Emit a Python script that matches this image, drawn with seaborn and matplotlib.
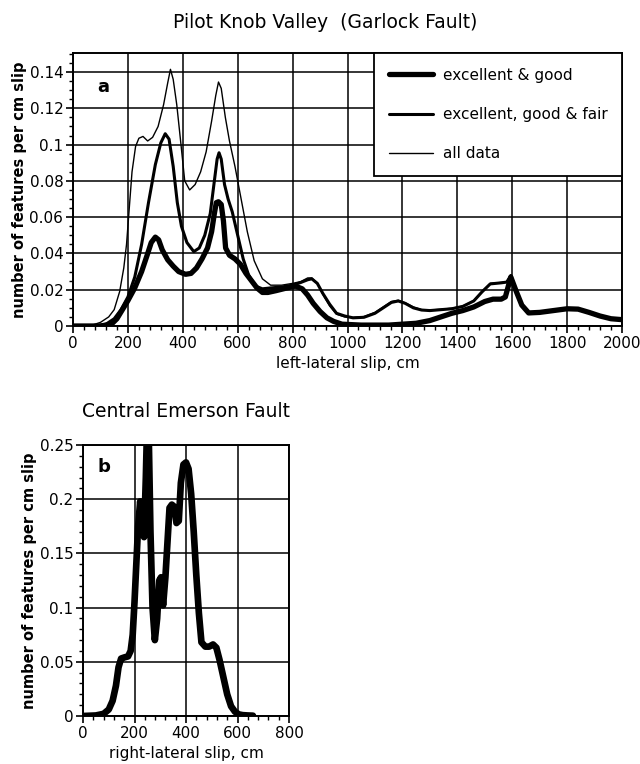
import numpy as np
import pandas as pd
import matplotlib
matplotlib.use("Agg")
import matplotlib.pyplot as plt
from matplotlib.ticker import MultipleLocator, FuncFormatter
import seaborn as sns

# ---- Pilot Knob Valley (Garlock Fault): slip distributions ----
all_x = [0, 60, 100, 130, 150, 170, 185, 195, 205, 215, 228, 240, 255, 272, 290, 310,
         330, 345, 355, 365, 378, 392, 407, 425, 445, 465, 485, 505, 520, 530, 540, 555,
         570, 590, 610, 635, 660, 690, 720, 760, 800, 830, 855, 870, 890, 910, 935, 960,
         990, 1020, 1060, 1100, 1130, 1160, 1185, 1210, 1240, 1270, 1300, 1340, 1380,
         1420, 1460, 1490, 1520, 1560, 1580, 1595, 1615, 1635, 1660, 1700, 1750, 1800,
         1840, 1880, 1920, 1960, 2000]
all_y = [0, 0, 0.002, 0.005, 0.009, 0.019, 0.032, 0.045, 0.065, 0.085, 0.099, 0.1035,
         0.1045, 0.102, 0.104, 0.110, 0.122, 0.134, 0.1415, 0.136, 0.122, 0.102, 0.080,
         0.075, 0.078, 0.085, 0.096, 0.113, 0.127, 0.1345, 0.131, 0.115, 0.102, 0.088,
         0.072, 0.052, 0.036, 0.026, 0.0225, 0.0225, 0.0235, 0.0245, 0.0265, 0.0265,
         0.0235, 0.0175, 0.011, 0.0065, 0.005, 0.0047, 0.0052, 0.0075, 0.0105, 0.0135,
         0.0142, 0.0128, 0.0105, 0.009, 0.0088, 0.0092, 0.0098, 0.011, 0.014, 0.019,
         0.0235, 0.024, 0.0245, 0.028, 0.019, 0.0115, 0.0072, 0.0075, 0.0085, 0.0095,
         0.0093, 0.0075, 0.0055, 0.004, 0.0035]

egf_x = [0, 80, 120, 150, 175, 200, 225, 250, 275, 300, 320, 336, 350, 365, 380, 395,
         415, 440, 460, 480, 500, 515, 525, 532, 540, 552, 565, 580, 600, 620, 640, 665,
         690, 720, 760, 800, 830, 855, 870, 890, 910, 935, 960, 990, 1020, 1060, 1100,
         1130, 1160, 1185, 1210, 1240, 1270, 1300, 1340, 1380, 1420, 1460, 1490, 1520,
         1560, 1580, 1595, 1615, 1635, 1660, 1700, 1750, 1800, 1840, 1880, 1920, 1960, 2000]
egf_y = [0, 0, 0.001, 0.004, 0.009, 0.016, 0.027, 0.045, 0.068, 0.089, 0.101, 0.106,
         0.103, 0.088, 0.068, 0.055, 0.046, 0.041, 0.043, 0.050, 0.062, 0.080, 0.092,
         0.0955, 0.092, 0.078, 0.070, 0.063, 0.050, 0.037, 0.028, 0.022, 0.0205, 0.021,
         0.0215, 0.0225, 0.024, 0.0255, 0.026, 0.0235, 0.018, 0.012, 0.007, 0.0055,
         0.0045, 0.0048, 0.007, 0.010, 0.013, 0.0138, 0.0125, 0.010, 0.0088, 0.0085,
         0.009, 0.0095, 0.0108, 0.0138, 0.0188, 0.0232, 0.0238, 0.0242, 0.0278, 0.019,
         0.0115, 0.0072, 0.0075, 0.0085, 0.0095, 0.0093, 0.0075, 0.0055, 0.004, 0.0035]

eg_x = [0, 100, 140, 160, 180, 200, 225, 250, 270, 285, 300, 312, 325, 345, 365, 385,
        410, 430, 450, 470, 490, 505, 515, 522, 530, 540, 548, 556, 570, 590, 610, 630,
        650, 670, 690, 710, 740, 780, 810, 835, 855, 875, 900, 925, 950, 980, 1050, 1150,
        1250, 1300, 1340, 1380, 1420, 1460, 1500, 1530, 1560, 1575, 1595, 1615, 1635,
        1660, 1700, 1750, 1800, 1840, 1880, 1920, 1960, 2000]
eg_y = [0, 0, 0.001, 0.004, 0.009, 0.014, 0.021, 0.030, 0.039, 0.046, 0.049, 0.0475,
        0.042, 0.0365, 0.033, 0.030, 0.0285, 0.029, 0.032, 0.037, 0.043, 0.052, 0.062,
        0.068, 0.0685, 0.067, 0.058, 0.043, 0.039, 0.037, 0.034, 0.029, 0.025, 0.021,
        0.0185, 0.0185, 0.0195, 0.021, 0.022, 0.0205, 0.017, 0.0125, 0.008, 0.0045,
        0.0025, 0.001, 0.0005, 0.0005, 0.0015, 0.003, 0.005, 0.007, 0.0085, 0.0105,
        0.0135, 0.0148, 0.0148, 0.016, 0.027, 0.019, 0.0115, 0.0072, 0.0075, 0.0085,
        0.0095, 0.0093, 0.0075, 0.0055, 0.004, 0.0035]

# ---- Central Emerson Fault ----
em_x = [0, 50, 80, 100, 115, 128, 138, 148, 160, 175, 185, 193, 200, 207, 214, 222,
        230, 237, 244, 250, 256, 262, 270, 279, 288, 296, 303, 311, 320, 328, 336, 345,
        355, 363, 372, 380, 390, 400, 410, 420, 430, 440, 450, 460, 475, 490, 505, 518,
        530, 545, 560, 575, 590, 605, 620, 640, 660]
em_y = [0.0, 0.0005, 0.002, 0.006, 0.014, 0.028, 0.045, 0.053, 0.054, 0.055, 0.060,
        0.075, 0.105, 0.14, 0.175, 0.198, 0.175, 0.165, 0.22, 0.28, 0.25, 0.17, 0.10,
        0.070, 0.09, 0.125, 0.128, 0.102, 0.128, 0.16, 0.192, 0.195, 0.193, 0.178, 0.18,
        0.215, 0.232, 0.234, 0.228, 0.205, 0.17, 0.13, 0.095, 0.068, 0.064, 0.064, 0.066,
        0.063, 0.052, 0.036, 0.02, 0.009, 0.004, 0.0015, 0.0008, 0.0005, 0.0003]

top_xticks = list(range(0, 2001, 200))
top_yticks = [0, 0.02, 0.04, 0.06, 0.08, 0.1, 0.12, 0.14]
bot_xticks = [0, 200, 400, 600, 800]
bot_yticks = [0, 0.05, 0.1, 0.15, 0.2, 0.25]

sns.set_style("ticks")
plt.rcParams["font.family"] = ["DejaVu Sans"]
plt.rcParams["axes.linewidth"] = 1.3
for key in ("text.color", "axes.labelcolor", "xtick.color", "ytick.color",
            "xtick.labelcolor", "ytick.labelcolor", "axes.edgecolor"):
    plt.rcParams[key] = "black"

fig = plt.figure(figsize=(6.4, 7.64), dpi=100)

def fmt(v, _pos):
    return f"{round(v, 4):g}"

def style_axes(ax, xticks, yticks, xminor, yminor):
    ax.set_xticks(xticks)
    ax.set_yticks(yticks)
    ax.xaxis.set_minor_locator(MultipleLocator(xminor))
    ax.yaxis.set_minor_locator(MultipleLocator(yminor))
    ax.yaxis.set_major_formatter(FuncFormatter(fmt))
    ax.grid(True, which="major", color="black", linewidth=1.1)
    ax.set_axisbelow(True)
    ax.tick_params(which="major", direction="out", length=5, width=1.2,
                   labelsize=11, pad=2, colors="black")
    ax.tick_params(which="minor", direction="out", length=3, width=1.0, colors="black")
    for sp in ax.spines.values():
        sp.set_color("black")
        sp.set_linewidth(1.4)

# ---- panel a ----
ax1 = fig.add_axes([73 / 640, 1 - 326 / 764, (622 - 73) / 640, (326 - 53) / 764])
sns.lineplot(x=eg_x, y=eg_y, ax=ax1, color="black", linewidth=3.8,
             sort=False, estimator=None, label="excellent & good")
sns.lineplot(x=egf_x, y=egf_y, ax=ax1, color="black", linewidth=2.2,
             sort=False, estimator=None, label="excellent, good & fair")
sns.lineplot(x=all_x, y=all_y, ax=ax1, color="black", linewidth=1.0,
             sort=False, estimator=None, label="all data")
ax1.set_xlim(0, 2000)
ax1.set_ylim(0, 0.1505)
style_axes(ax1, top_xticks, top_yticks, 40, 0.005)
ax1.set_xlabel("left-lateral slip, cm", fontsize=11, labelpad=4)
ax1.set_ylabel("number of features per cm slip", fontsize=10.5,
               fontweight="bold", labelpad=2)
ax1.text(0.044, 0.875, "a", transform=ax1.transAxes, fontsize=13,
         fontweight="bold", ha="left", va="center")
leg = ax1.legend(loc="upper right", bbox_to_anchor=(1, 1), borderaxespad=0,
                 fontsize=11, frameon=True, fancybox=False, framealpha=1,
                 edgecolor="black", handlelength=2.9, handletextpad=0.65,
                 labelspacing=1.6, borderpad=0.95)
leg.get_frame().set_linewidth(1.3)

# ---- panel b ----
ax2 = fig.add_axes([83 / 640, 1 - 716 / 764, (289 - 83) / 640, (716 - 445) / 764])
sns.lineplot(x=em_x, y=em_y, ax=ax2, color="black", linewidth=4.8,
             sort=False, estimator=None)
ax2.set_xlim(0, 800)
ax2.set_ylim(0, 0.25)
style_axes(ax2, bot_xticks, bot_yticks, 40, 0.01)
ax2.set_xlabel("right-lateral slip, cm", fontsize=11, labelpad=4)
ax2.set_ylabel("number of features per cm slip", fontsize=10.5,
               fontweight="bold", labelpad=2)
ax2.text(0.07, 0.919, "b", transform=ax2.transAxes, fontsize=13,
         fontweight="bold", ha="left", va="center")

fig.text(325 / 640, 1 - 22 / 764, "Pilot Knob Valley  (Garlock Fault)",
         fontsize=13.5, ha="center", va="center")
fig.text(186 / 640, 1 - 412 / 764, "Central Emerson Fault",
         fontsize=13.5, ha="center", va="center")

fig.savefig("out.png", dpi=100)
